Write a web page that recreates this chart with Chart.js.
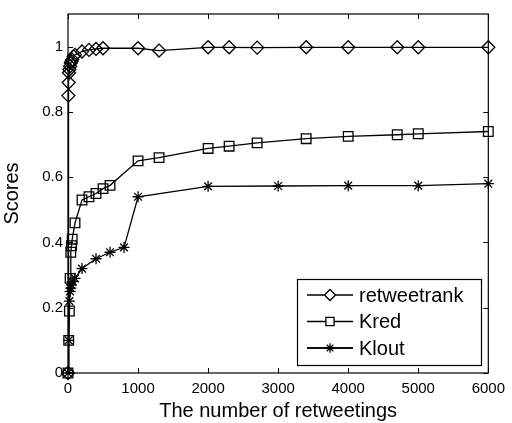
<!DOCTYPE html>
<html>
<head>
<meta charset="utf-8">
<script src="https://cdn.jsdelivr.net/npm/chart.js@4/dist/chart.umd.min.js"></script>
<style>
  html, body { margin: 0; padding: 0; background: #fff; }
  #wrap { width: 512px; height: 423px; }
</style>
</head>
<body>
<div id="wrap"><canvas id="scoreChart" width="512" height="423"></canvas></div>
<script>
// data
const xRank = [0, 5, 10, 15, 20, 30, 40, 50, 60, 80, 100, 200, 300, 400, 500, 1000, 1300, 2000, 2300, 2700, 3400, 4000, 4700, 5000, 6000];
const yRank = [0, 0.85, 0.89, 0.92, 0.93, 0.94, 0.95, 0.955, 0.96, 0.97, 0.975, 0.985, 0.99, 0.993, 0.995, 0.995, 0.988, 0.998, 0.998, 0.997, 0.998, 0.998, 0.998, 0.998, 0.998];

const xKred = [0, 10, 20, 30, 40, 50, 60, 100, 200, 300, 400, 500, 600, 1000, 1300, 2000, 2300, 2700, 3400, 4000, 4700, 5000, 6000];
const yKred = [0, 0.1, 0.19, 0.29, 0.37, 0.39, 0.41, 0.46, 0.53, 0.54, 0.55, 0.565, 0.575, 0.65, 0.66, 0.688, 0.695, 0.705, 0.718, 0.725, 0.73, 0.733, 0.74];

const xKlout = [0, 10, 20, 30, 40, 50, 60, 100, 200, 400, 600, 800, 1000, 2000, 3000, 4000, 5000, 6000];
const yKlout = [0, 0.1, 0.22, 0.25, 0.26, 0.27, 0.28, 0.29, 0.32, 0.35, 0.37, 0.385, 0.54, 0.572, 0.573, 0.574, 0.574, 0.58];

const seriesNames = ["retweetrank", "Kred", "Klout"];
const xTicks = [0, 1000, 2000, 3000, 4000, 5000, 6000];
const yTicks = [0, 0.2, 0.4, 0.6, 0.8, 1];

const FONT = "'Liberation Sans', Arial, sans-serif";

const pts = (xs, ys) => xs.map((x, i) => ({ x: x, y: ys[i] }));

const markers = [
    { style: "rectRot", radius: 6.5 },
    { style: "rect", radius: 6.8 },
    { style: "star", radius: 5.5 }
];

const makeSet = (label, data, m) => ({
    label: label,
    data: data,
    borderColor: "#000",
    borderWidth: 1.3,
    pointStyle: m.style,
    pointRadius: m.radius,
    pointBorderColor: "#000",
    pointBackgroundColor: "rgba(0,0,0,0)",
    pointBorderWidth: 1.3,
    tension: 0
});

// box + inward ticks on every side, MATLAB style
const boxPlugin = {
    id: "box",
    afterDatasetsDraw(chart) {
        const { ctx, chartArea: a, scales } = chart;
        ctx.save();
        ctx.strokeStyle = "#000";
        ctx.lineWidth = 1.2;
        ctx.strokeRect(a.left, a.top, a.right - a.left, a.bottom - a.top);
        ctx.lineWidth = 1;
        ctx.beginPath();
        xTicks.forEach(v => {
            const px = Math.round(scales.x.getPixelForValue(v)) + 0.5;
            ctx.moveTo(px, a.bottom); ctx.lineTo(px, a.bottom - 5);
            ctx.moveTo(px, a.top); ctx.lineTo(px, a.top + 5);
        });
        yTicks.forEach(v => {
            const py = Math.round(scales.y.getPixelForValue(v)) + 0.5;
            ctx.moveTo(a.left, py); ctx.lineTo(a.left + 5, py);
            ctx.moveTo(a.right, py); ctx.lineTo(a.right - 5, py);
        });
        ctx.stroke();
        ctx.restore();
    }
};

// legend box in lower right
const legendPlugin = {
    id: "boxLegend",
    afterDraw(chart) {
        const ctx = chart.ctx;
        const left = 297, top = 279, w = 184, h = 86;
        ctx.save();
        ctx.fillStyle = "#fff";
        ctx.fillRect(left, top, w, h);
        ctx.strokeStyle = "#000";
        ctx.lineWidth = 1.2;
        ctx.strokeRect(left + 0.5, top + 0.5, w, h);
        ctx.font = "20px " + FONT;
        ctx.textBaseline = "middle";
        seriesNames.forEach((name, i) => {
            const y = top + 16 + i * 26.5;
            ctx.lineWidth = 1.3;
            ctx.strokeStyle = "#000";
            ctx.beginPath();
            ctx.moveTo(left + 10, y);
            ctx.lineTo(left + 56, y);
            ctx.stroke();
            ctx.fillStyle = "#fff";
            Chart.helpers.drawPoint(ctx, {
                pointStyle: markers[i].style,
                radius: markers[i].radius * 0.85,
                borderWidth: 1.3,
                rotation: 0
            }, left + 33, y);
            if (markers[i].style === "star") {
                ctx.beginPath();
                ctx.moveTo(left + 10, y);
                ctx.lineTo(left + 56, y);
                ctx.stroke();
            }
            ctx.fillStyle = "#000";
            ctx.fillText(name, left + 62, y + 1);
        });
        ctx.restore();
    }
};

const ctx = document.getElementById("scoreChart").getContext("2d");
new Chart(ctx, {
    type: "line",
    data: {
        datasets: [
            makeSet(seriesNames[0], pts(xRank, yRank), markers[0]),
            makeSet(seriesNames[1], pts(xKred, yKred), markers[1]),
            makeSet(seriesNames[2], pts(xKlout, yKlout), markers[2])
        ]
    },
    options: {
        responsive: false,
        animation: false,
        events: [],
        clip: false,
        layout: { padding: { top: 4, right: 23, left: 0, bottom: 0 } },
        plugins: {
            legend: { display: false },
            tooltip: { enabled: false }
        },
        scales: {
            x: {
                type: "linear",
                min: 0,
                max: 6000,
                afterBuildTicks: s => { s.ticks = xTicks.map(v => ({ value: v })); },
                afterFit: s => { s.height = 50; },
                grid: { display: false, drawTicks: false },
                border: { display: false },
                ticks: {
                    color: "#000",
                    font: { family: FONT, size: 15 },
                    padding: 7,
                    maxRotation: 0,
                    callback: v => String(v)
                },
                title: {
                    display: true,
                    text: "The number of retweetings",
                    color: "#000",
                    font: { family: FONT, size: 20 },
                    padding: { top: 0, bottom: 0 }
                }
            },
            y: {
                type: "linear",
                min: 0,
                max: 1.1,
                afterBuildTicks: s => { s.ticks = yTicks.map(v => ({ value: v })); },
                afterFit: s => { s.width = 68; },
                grid: { display: false, drawTicks: false },
                border: { display: false },
                ticks: {
                    color: "#000",
                    font: { family: FONT, size: 15 },
                    padding: 5,
                    callback: v => String(v)
                },
                title: {
                    display: true,
                    text: "Scores",
                    color: "#000",
                    font: { family: FONT, size: 20 },
                    padding: { top: 0, bottom: 4 }
                }
            }
        }
    },
    plugins: [boxPlugin, legendPlugin]
});
</script>
</body>
</html>
